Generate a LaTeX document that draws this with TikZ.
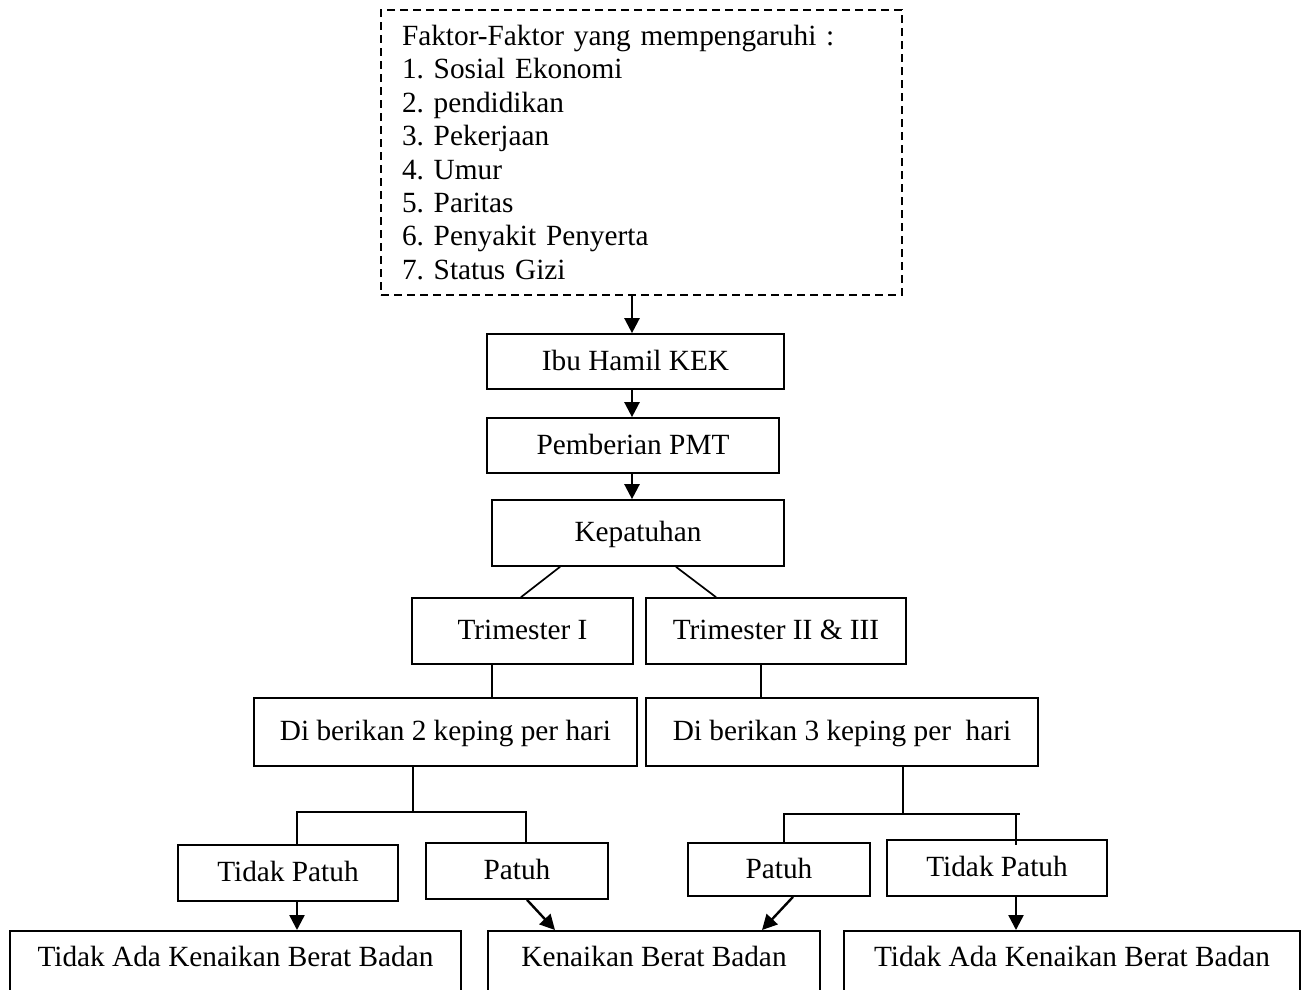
\documentclass[tikz,border=0pt]{standalone}
\usepackage{fontspec}
\setmainfont{Liberation Serif}
\frenchspacing
\usetikzlibrary{arrows.meta}
\begin{document}
\begin{tikzpicture}[x=1pt,y=-1pt,
  box/.style={draw, line width=1.7pt, rectangle, inner sep=0pt, align=center,
    text height=23pt, text depth=6pt, font=\fontsize{29.3}{33.4}\selectfont\frenchspacing},
  bottombox/.style={box, anchor=north, text height=20pt, text depth=40pt, inner ysep=16pt},
  conn/.style={line width=1.7pt},
  arr/.style={line width=2.4pt, -{Triangle[width=15pt,length=15pt]}},
]
\useasboundingbox (0,0) rectangle (1303,989);
\clip (0,0) rectangle (1303,989);

% nodes
\node[draw, line width=1.8pt, dash pattern=on 8pt off 5pt, inner sep=0pt,
  minimum width=521pt, minimum height=285pt, text width=479pt, align=left,
  font=\fontsize{29.3}{33.4}\selectfont\frenchspacing] (fak) at (641.5,152.5)
  {Faktor-Faktor yang mempengaruhi :\\1. Sosial Ekonomi\\2. pendidikan\\3. Pekerjaan\\4. Umur\\5. Paritas\\6. Penyakit Penyerta\\7. Status Gizi};
\node[box, minimum width=297pt, minimum height=55pt] (ibu) at (635.5,361.5) {Ibu Hamil KEK};
\node[box, minimum width=292pt, minimum height=55pt] (pmt) at (633,445.5) {Pemberian PMT};
\node[box, minimum width=292pt, minimum height=66pt] (kep) at (638,533) {Kepatuhan};
\node[box, minimum width=221pt, minimum height=66pt] (tri1) at (522.5,631) {Trimester I};
\node[box, minimum width=260pt, minimum height=66pt] (tri2) at (776,631) {Trimester II \& III};
\node[box, minimum width=383pt, minimum height=68pt] (di2) at (445.5,732) {Di berikan 2 keping per hari};
\node[box, minimum width=392pt, minimum height=68pt] (di3) at (842,732) {Di berikan 3 keping per\ \ hari};
\node[box, minimum width=220pt, minimum height=56pt] (tp1) at (288,873) {Tidak Patuh};
\node[box, minimum width=182pt, minimum height=56pt] (p1) at (517,871) {Patuh};
\node[box, minimum width=182pt, minimum height=53pt] (p2) at (779,869.5) {Patuh};
\node[box, minimum width=220pt, minimum height=56pt] (tp2) at (997,868) {Tidak Patuh};
\node[bottombox, minimum width=451pt] (b1) at (235.5,930) {Tidak Ada Kenaikan Berat Badan};
\node[bottombox, minimum width=332pt] (b2) at (654,930) {Kenaikan Berat Badan};
\node[bottombox, minimum width=456pt] (b3) at (1072,930) {Tidak Ada Kenaikan Berat Badan};

% helper coordinates
\coordinate (x632) at (632,0);
\coordinate (x560) at (560,0);
\coordinate (x521) at (521,0);
\coordinate (x676) at (676,0);
\coordinate (x716) at (716,0);
\coordinate (x492) at (492,0);
\coordinate (x761) at (761,0);
\coordinate (x297) at (297,0);
\coordinate (x526) at (526,0);
\coordinate (x527) at (527,0);
\coordinate (x555) at (555,0);
\coordinate (x784) at (784,0);
\coordinate (x793) at (793,0);
\coordinate (x762) at (762,0);
\coordinate (x1016) at (1016,0);
\coordinate (j1) at (413,812);
\coordinate (j2) at (903,814);
\coordinate (e2) at (1020,814);
\coordinate (d2) at (1016,814);

% connectors
\draw[arr] (fak.south -| x632) -- (ibu.north -| x632);
\draw[arr] (ibu.south -| x632) -- (pmt.north -| x632);
\draw[arr] (pmt.south -| x632) -- (kep.north -| x632);
\draw[conn] (kep.south -| x560) -- (tri1.north -| x521);
\draw[conn] (kep.south -| x676) -- (tri2.north -| x716);
\draw[conn] (tri1.south -| x492) -- (di2.north -| x492);
\draw[conn] (tri2.south -| x761) -- (di3.north -| x761);
\draw[conn] (di2.south -| j1) -- (j1);
\draw[conn] (tp1.north -| x297) |- (j1) -| (p1.north -| x526);
\draw[arr] (tp1.south -| x297) -- (b1.north -| x297);
\draw[arr] (p1.south -| x527) -- (b2.north -| x555);
\draw[conn] (di3.south -| j2) -- (j2);
\draw[conn] (p2.north -| x784) |- (j2) -- (e2);
\draw[conn] (d2) -- ([yshift=-6pt]tp2.north -| x1016);
\draw[arr] (p2.south -| x793) -- (b2.north -| x762);
\draw[arr] (tp2.south -| x1016) -- (b3.north -| x1016);
\end{tikzpicture}
\end{document}
